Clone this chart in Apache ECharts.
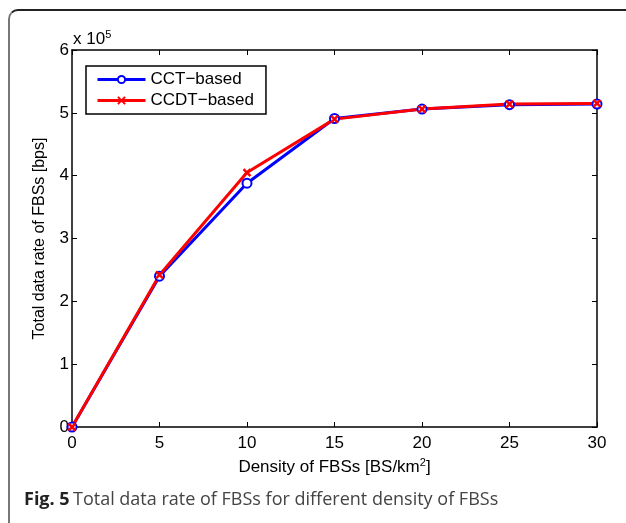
<!DOCTYPE html>
<html>
<head>
<meta charset="utf-8">
<script src="https://cdn.jsdelivr.net/npm/echarts@6/dist/echarts.min.js"></script>
<style>
  html, body { margin: 0; padding: 0; background: #fff; }
  #frame {
    position: absolute; left: 8px; top: 9px; width: 640px; height: 540px;
    border-top: 2px solid #222; border-left: 2px solid #777;
    border-top-left-radius: 10px; box-sizing: border-box;
  }
  #chart { position: absolute; left: 0; top: 0; width: 626px; height: 523px; }
</style>
</head>
<body>
<div id="frame"></div>
<div id="chart"></div>
<script>
// density of FBSs [BS/km^2]
const density = [0, 5, 10, 15, 20, 25, 30];
// total data rate, in units of 1e5 bps
const cctRate = [0, 2.40, 3.88, 4.91, 5.06, 5.13, 5.14];
const ccdtRate = [0, 2.42, 4.05, 4.90, 5.06, 5.14, 5.15];
const xTicks = [0, 5, 10, 15, 20, 25, 30];
const yTicks = [0, 1, 2, 3, 4, 5, 6];

const font = 'Liberation Sans, Arial, sans-serif';
const fs = 17;
const xMarkPath = 'path://M0,0 L10,10 M10,0 L0,10';

const myChart = echarts.init(document.getElementById('chart'));

const axisBase = {
  min: 0,
  axisLine: { show: true, onZero: false, lineStyle: { color: '#000', width: 1.5 } },
  axisTick: { show: true, inside: true, length: 5, lineStyle: { color: '#000' } },
  splitLine: { show: false }
};

const option = {
  animation: false,
  grid: { left: 72, top: 50, right: 29, bottom: 96 },
  legend: {
    left: 86, top: 66, orient: 'vertical',
    padding: [5, 12, 5, 10], itemGap: 4,
    itemWidth: 48, itemHeight: 9,
    borderColor: '#000', borderWidth: 1.5, borderRadius: 0,
    backgroundColor: '#fff',
    lineStyle: { width: 3 },
    textStyle: { fontFamily: font, fontSize: fs, color: '#000', lineHeight: 16 },
    data: ['CCT\u2212based', 'CCDT\u2212based']
  },
  xAxis: [
    Object.assign({}, axisBase, {
      type: 'value', max: 30, interval: 5, position: 'bottom',
      name: '{t|Density of FBSs [BS/km}{s|2}{t|]}',
      nameLocation: 'middle', nameGap: 30,
      nameTextStyle: {
        rich: {
          t: { fontFamily: font, fontSize: fs, color: '#000' },
          s: { fontFamily: font, fontSize: 11, color: '#000', verticalAlign: 'top', padding: [0, 0, 9, 0] }
        }
      },
      axisLabel: {
        fontFamily: font, fontSize: fs, color: '#000', margin: 8,
        formatter: v => xTicks.includes(v) ? String(v) : ''
      }
    }),
    Object.assign({}, axisBase, {
      type: 'value', max: 30, interval: 5, position: 'top',
      axisLabel: { show: false }
    })
  ],
  yAxis: [
    Object.assign({}, axisBase, {
      type: 'value', max: 6, interval: 1, position: 'left',
      name: 'Total data rate of FBSs [bps]',
      nameLocation: 'middle', nameGap: 24,
      nameTextStyle: { fontFamily: font, fontSize: 16, color: '#000' },
      axisLabel: {
        fontFamily: font, fontSize: fs, color: '#000', margin: 3,
        formatter: v => yTicks.includes(v) ? String(v) : ''
      }
    }),
    Object.assign({}, axisBase, {
      type: 'value', max: 6, interval: 1, position: 'right',
      axisLabel: { show: false }
    })
  ],
  graphic: [
    {
      type: 'text', left: 73, top: 29,
      style: {
        text: '{a|x 10}{b|5}',
        rich: {
          a: { fontFamily: font, fontSize: fs, fill: '#000' },
          b: { fontFamily: font, fontSize: 11, fill: '#000', verticalAlign: 'top', padding: [0, 0, 9, 0] }
        }
      }
    },
    {
      type: 'text', left: 24, top: 491,
      style: {
        text: '{b|Fig. 5} {n|Total data rate of FBSs for different density of FBSs}',
        rich: {
          b: { fontFamily: 'Open Sans, Noto Sans, sans-serif', fontSize: 18, fontWeight: 'bold', fill: '#222' },
          n: { fontFamily: 'Open Sans, Noto Sans, sans-serif', fontSize: 18, fill: '#444' }
        }
      }
    }
  ],
  series: [
    {
      name: 'CCT\u2212based', type: 'line',
      data: density.map((d, i) => [d, cctRate[i]]),
      symbol: 'emptyCircle', symbolSize: 9,
      lineStyle: { color: '#0000ff', width: 3 },
      itemStyle: { color: '#0000ff', borderWidth: 2.5 }
    },
    {
      name: 'CCDT\u2212based', type: 'line',
      data: density.map((d, i) => [d, ccdtRate[i]]),
      symbol: xMarkPath, symbolSize: 7,
      lineStyle: { color: '#ff0000', width: 3 },
      itemStyle: { color: 'none', borderColor: '#ff0000', borderWidth: 2.5 }
    }
  ]
};

myChart.setOption(option);
</script>
</body>
</html>
